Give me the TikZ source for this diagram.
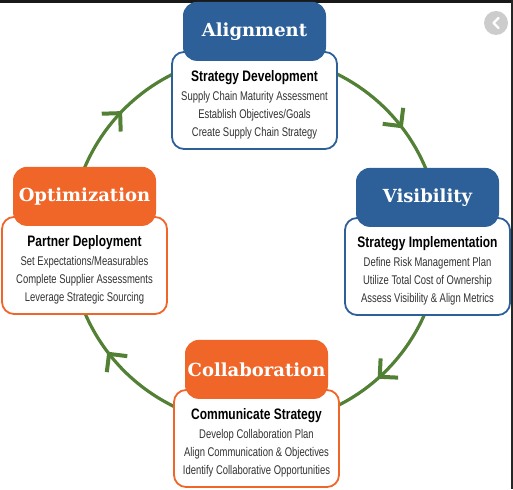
\documentclass[tikz,border=0pt]{standalone}
\usepackage{fontspec}
\usetikzlibrary{positioning}

\newfontfamily\headfont{DejaVu Serif}
\newfontfamily\bodyfont{Liberation Sans}[FakeStretch=0.75]
\newfontfamily\titlefont{Liberation Sans}[FakeStretch=0.79]

\definecolor{ringgreen}{RGB}{82,128,52}
\definecolor{stageblue}{RGB}{45,96,153}
\definecolor{stageorange}{RGB}{240,101,40}
\definecolor{textgray}{RGB}{50,50,50}

% 見出し行（太字）＋上側の余白
\newcommand{\stagetitle}[1]{\rule{0pt}{19pt}{\color{black}\titlefont\bfseries\fontsize{15.2}{18}\selectfont #1}\\[1pt]}

\begin{document}
\begin{tikzpicture}[
    x=1pt, y=1pt,
    ringline/.style={ringgreen, line width=3.2pt},
    % 円弧の途中に置く開いた矢じり（V字）
    chevron/.pic={\draw [ringgreen, line width=4pt, line join=miter] (-13,13) -- (0,0) -- (-13,-13);},
    body/.style={draw=#1, line width=1.8pt, fill=white, rounded corners=12pt,
        minimum width=165pt, minimum height=97pt, inner sep=0pt, align=center,
        text=textgray, font=\bodyfont\fontsize{12.6}{18}\selectfont},
    head/.style={fill=#1, rounded corners=14pt, minimum width=143pt,
        minimum height=59pt, inner sep=0pt, text=white,
        font=\headfont\bfseries\fontsize{18}{20}\selectfont}
]
    \useasboundingbox (0,0) rectangle (513,489);

    % --- 1. 画面の枠 ---
    \fill [black!90] (0,486) rectangle (513,489);
    \fill [black!85] (510.5,0) rectangle (513,489);
    \node [circle, fill=black!20, minimum size=24pt, inner sep=0pt] (backbtn) at (496,466) {};
    \draw [white, line width=2.4pt, line cap=round, line join=round]
        ([shift={(2.5,5)}]backbtn.center) -- ([shift={(-2.5,0)}]backbtn.center) -- ([shift={(2.5,-5)}]backbtn.center);

    % --- 2. 循環する緑の円弧（時計回り） ---
    \coordinate (ringN) at (255,434);
    \coordinate (ringE) at (440,249);
    \coordinate (ringS) at (255,64);
    \coordinate (ringW) at (70,249);

    \draw [ringline] (ringW) to[out=90, in=180] pic[pos=0.48, sloped, allow upside down] {chevron} (ringN);
    \draw [ringline] (ringN) to[out=0, in=90] pic[pos=0.58, sloped, allow upside down] {chevron} (ringE);
    \draw [ringline] (ringE) to[out=-90, in=0] pic[pos=0.53, sloped, allow upside down] {chevron} (ringS);
    \draw [ringline] (ringS) to[out=180, in=-90] pic[pos=0.58, sloped, allow upside down] {chevron} (ringW);

    % --- 3. 説明ボックス ---
    \node [body=stageblue] (alignbody) at (254.5,388.5) {\stagetitle{Strategy Development}
        Supply Chain Maturity Assessment\\ Establish Objectives/Goals\\ Create Supply Chain Strategy};
    \node [body=stageblue] (visibody) at (427.5,222.5) {\stagetitle{Strategy Implementation}
        Define Risk Management Plan\\ Utilize Total Cost of Ownership\\ Assess Visibility \& Align Metrics};
    \node [body=stageorange] (optibody) at (84.5,223.5) {\stagetitle{Partner Deployment}
        Set Expectations/Measurables\\ Complete Supplier Assessments\\ Leverage Strategic Sourcing};
    \node [body=stageorange] (collbody) at (256.5,50.5) {\stagetitle{Communicate Strategy}
        Develop Collaboration Plan\\ Align Communication \& Objectives\\ Identify Collaborative Opportunities};

    % --- 4. 見出し（ボックスに重ねる） ---
    \node [head=stageblue, above=-10pt of alignbody] (alignhead) {Alignment};
    \node [head=stageblue, above=-10pt of visibody] (visihead) {Visibility};
    \node [head=stageorange, above=-10pt of optibody] (optihead) {Optimization};
    \node [head=stageorange, above=-10pt of collbody] (collhead) {Collaboration};

\end{tikzpicture}
\end{document}
